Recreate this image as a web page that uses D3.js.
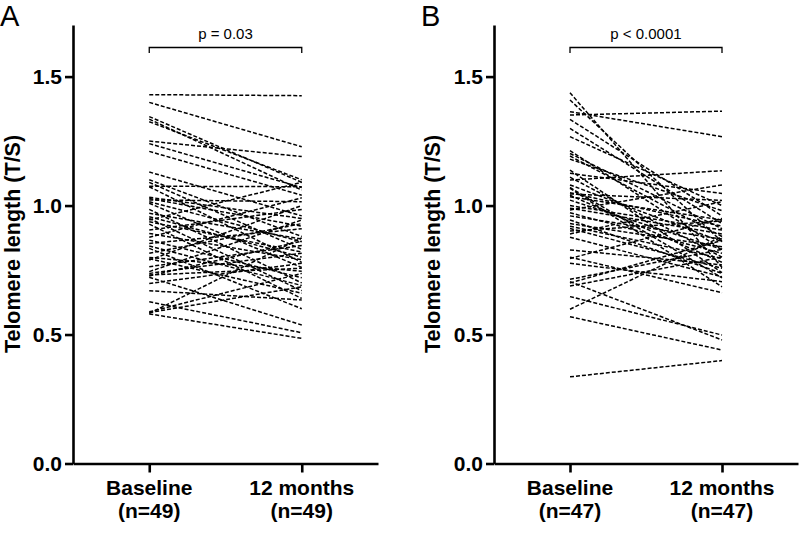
<!DOCTYPE html>
<html>
<head>
<meta charset="utf-8">
<script src="https://cdn.jsdelivr.net/npm/d3@7"></script>
<style>
  body { margin: 0; background: #fff; }
  svg { display: block; font-family: "Liberation Sans", Arial, sans-serif; }
</style>
</head>
<body>
<div class="graph"></div>
<script>
// paired telomere values
const categoriesA = ["Baseline", "12 months"];
const nLabelsA = ["(n=49)", "(n=49)"];
const baselineA = [1.43, 1.40, 1.345, 1.335, 1.325, 1.25, 1.24, 1.21, 1.13, 1.075,
  1.10, 1.09, 1.073, 1.032, 1.027, 1.022, 1.015, 1.009, 0.985, 0.970,
  0.957, 0.950, 0.944, 0.937, 0.928, 0.905, 0.892, 0.877, 0.866, 0.853,
  0.843, 0.834, 0.815, 0.799, 0.794, 0.789, 0.763, 0.744, 0.737, 0.731,
  0.727, 0.722, 0.698, 0.670, 0.627, 0.588, 0.585, 0.582, 0.580];
const monthsA = [1.426, 1.228, 1.09, 1.06, 1.10, 1.19, 1.07, 1.04, 0.96, 1.073,
  0.88, 0.83, 0.78, 0.95, 0.92, 1.015, 0.86, 0.76, 0.70, 0.87,
  0.80, 0.67, 1.09, 0.82, 0.64, 0.985, 0.79, 1.03, 0.72, 0.91,
  0.69, 0.60, 0.93, 0.745, 0.66, 1.00, 0.845, 0.944, 0.815, 0.757,
  0.862, 0.537, 0.776, 0.634, 0.507, 0.737, 0.685, 0.875, 0.485];

const categoriesB = ["Baseline", "12 months"];
const nLabelsB = ["(n=47)", "(n=47)"];
const baselineB = [1.437, 1.409, 1.364, 1.351, 1.334, 1.299, 1.267, 1.213, 1.202, 1.192,
  1.18, 1.137, 1.125, 1.11, 1.099, 1.080, 1.07, 1.067, 1.050, 1.045,
  1.04, 1.034, 1.021, 1.00, 0.99, 0.983, 0.972, 0.96, 0.944, 0.93,
  0.920, 0.911, 0.901, 0.89, 0.877, 0.828, 0.80, 0.795, 0.776, 0.714,
  0.705, 0.70, 0.688, 0.647, 0.598, 0.569, 0.336];
const monthsB = [0.76, 0.86, 1.267, 1.366, 0.96, 0.93, 1.00, 0.83, 0.91, 0.88,
  0.98, 0.74, 1.047, 0.80, 1.135, 0.86, 0.72, 0.685, 0.92, 1.02,
  0.78, 0.944, 0.83, 0.905, 0.89, 1.080, 0.815, 0.87, 0.737, 0.84,
  0.795, 0.757, 0.94, 1.015, 0.724, 0.77, 0.662, 0.95, 0.705, 0.83,
  0.479, 0.865, 0.80, 0.498, 0.88, 0.44, 0.399];

const yTicks = [0, 0.5, 1.0, 1.5];

const width = 800;
const height = 544;
const fontStack = '"Liberation Sans", Arial, sans-serif';

const svg = d3.select(".graph").append("svg")
  .attr("width", width)
  .attr("height", height);

function drawPanel(opts) {
  const g = svg.append("g");

  const xScale = d3.scalePoint()
    .domain(opts.categories)
    .range([opts.left, opts.right])
    .padding(0.5);
  const yScale = d3.scaleLinear()
    .domain([0, 1.7])
    .range([463.5, 25]);

  // paired dashed lines
  const pairs = opts.base.map((b, i) => [b, opts.after[i]]);
  g.selectAll("line.pair")
    .data(pairs)
    .enter()
    .append("line")
    .attr("class", "pair")
    .attr("x1", xScale(opts.categories[0]))
    .attr("x2", xScale(opts.categories[1]))
    .attr("y1", (d) => yScale(d[0]))
    .attr("y2", (d) => yScale(d[1]))
    .attr("stroke", "#000")
    .attr("stroke-width", 1.5)
    .attr("stroke-dasharray", "4,2");

  // y axis
  const yAxis = d3.axisLeft(yScale)
    .tickValues(yTicks)
    .tickFormat(d3.format(".1f"))
    .tickSize(8)
    .tickSizeOuter(0)
    .tickPadding(3);
  const ya = g.append("g")
    .attr("transform", "translate(" + opts.left + ",0)")
    .call(yAxis);
  ya.select(".domain").attr("stroke-width", 2.6);
  ya.selectAll(".tick line").attr("stroke-width", 2.6);
  ya.selectAll(".tick text")
    .attr("font-family", fontStack)
    .attr("font-size", 21)
    .attr("font-weight", "bold")
    .attr("fill", "#000");

  // x axis
  const xAxis = d3.axisBottom(xScale)
    .tickSize(9)
    .tickSizeOuter(0)
    .tickFormat("");
  const xa = g.append("g")
    .attr("transform", "translate(0," + yScale(0) + ")")
    .call(xAxis);
  xa.select(".domain").attr("stroke-width", 2.6);
  xa.selectAll(".tick line").attr("stroke-width", 2.6);

  opts.categories.forEach((c, i) => {
    const t = g.append("text")
      .attr("x", xScale(c))
      .attr("text-anchor", "middle")
      .attr("font-family", fontStack)
      .attr("font-size", 21)
      .attr("font-weight", "bold");
    t.append("tspan").attr("x", xScale(c)).attr("y", 495).text(c);
    t.append("tspan").attr("x", xScale(c)).attr("y", 518).text(opts.nLabels[i]);
  });

  // y axis title
  g.append("text")
    .attr("transform", "translate(" + opts.titleX + ",244) rotate(-90)")
    .attr("text-anchor", "middle")
    .attr("font-family", fontStack)
    .attr("font-size", 21.5)
    .attr("font-weight", "bold")
    .text("Telomere length (T/S)");

  // panel letter
  g.append("text")
    .attr("x", opts.letterX)
    .attr("y", 26)
    .attr("font-family", fontStack)
    .attr("font-size", 29)
    .text(opts.letter);

  // significance bracket
  const x0 = xScale(opts.categories[0]);
  const x1 = xScale(opts.categories[1]);
  g.append("path")
    .attr("d", "M" + x0 + ",53V47.5H" + x1 + "V53")
    .attr("fill", "none")
    .attr("stroke", "#000")
    .attr("stroke-width", 1.3);
  g.append("text")
    .attr("x", (x0 + x1) / 2)
    .attr("y", 39)
    .attr("text-anchor", "middle")
    .attr("font-family", fontStack)
    .attr("font-size", 15)
    .text(opts.pText);
}

drawPanel({
  categories: categoriesA, nLabels: nLabelsA,
  base: baselineA, after: monthsA,
  left: 73, right: 378, titleX: 20, letterX: 0,
  letter: "A", pText: "p = 0.03"
});

drawPanel({
  categories: categoriesB, nLabels: nLabelsB,
  base: baselineB, after: monthsB,
  left: 494, right: 798, titleX: 440, letterX: 421,
  letter: "B", pText: "p < 0.0001"
});
</script>
</body>
</html>
